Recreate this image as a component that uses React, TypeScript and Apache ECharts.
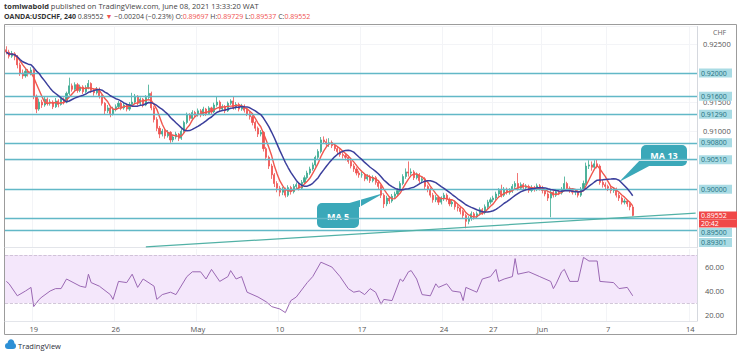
import React, { useEffect, useRef } from 'react';
import * as echarts from 'echarts';

// ---- data (prices in 1/10000 units, 4-hour candles) ----
const firstOpen = 9240;
const closesWk0 = [9236, 9229, 9233, 9228, 9214, 9200, 9195, 9203, 9199, 9205];
const highsWk0 = [9246, 9240, 9238, 9236, 9231, 9218, 9206, 9208, 9207, 9210];
const lowsWk0 = [9232, 9225, 9226, 9222, 9208, 9195, 9190, 9192, 9194, 9196];

const closesWk1 = [9160, 9138, 9150, 9145, 9155, 9148, 9150, 9142, 9152, 9146, 9155, 9150, 9165, 9178, 9172, 9180, 9170, 9176, 9168, 9175, 9182, 9170, 9166, 9172, 9160, 9148, 9135, 9140, 9130, 9138];
const highsWk1 = [9208, 9163, 9156, 9154, 9160, 9158, 9155, 9153, 9157, 9155, 9159, 9158, 9168, 9192, 9182, 9184, 9183, 9180, 9179, 9179, 9188, 9184, 9174, 9176, 9175, 9163, 9150, 9145, 9143, 9142];
const lowsWk1 = [9155, 9131, 9135, 9140, 9142, 9144, 9144, 9138, 9140, 9141, 9144, 9146, 9148, 9162, 9168, 9169, 9166, 9167, 9164, 9165, 9172, 9166, 9161, 9163, 9156, 9144, 9128, 9131, 9124, 9127];

const closesWk2 = [9142, 9148, 9140, 9145, 9138, 9146, 9150, 9160, 9148, 9155, 9145, 9158, 9165, 9140, 9120, 9105, 9095, 9100, 9092, 9098, 9085, 9090, 9095, 9088, 9100, 9115, 9128, 9122, 9132, 9128];
const highsWk2 = [9146, 9152, 9151, 9149, 9147, 9150, 9166, 9164, 9162, 9158, 9157, 9162, 9180, 9168, 9143, 9124, 9109, 9104, 9103, 9102, 9100, 9094, 9099, 9097, 9104, 9118, 9132, 9131, 9136, 9135];
const lowsWk2 = [9134, 9139, 9136, 9137, 9134, 9135, 9143, 9147, 9144, 9145, 9141, 9143, 9155, 9136, 9115, 9100, 9088, 9091, 9087, 9089, 9080, 9081, 9086, 9083, 9085, 9097, 9112, 9118, 9119, 9124];

const closesWk3 = [9135, 9128, 9138, 9130, 9140, 9133, 9145, 9150, 9138, 9142, 9135, 9148, 9152, 9140, 9146, 9138, 9143, 9136, 9130, 9125, 9115, 9105, 9095, 9098, 9070, 9055, 9040, 9025, 9010, 9002];
const highsWk3 = [9139, 9138, 9142, 9140, 9143, 9142, 9149, 9160, 9153, 9146, 9145, 9151, 9155, 9160, 9150, 9149, 9147, 9146, 9139, 9134, 9128, 9118, 9108, 9102, 9100, 9073, 9058, 9044, 9028, 9014];
const lowsWk3 = [9125, 9124, 9126, 9126, 9128, 9129, 9131, 9142, 9134, 9135, 9131, 9133, 9145, 9137, 9137, 9134, 9135, 9132, 9126, 9120, 9110, 9100, 9090, 9091, 9065, 9050, 9035, 9018, 9004, 8995];

const closesWk4 = [8995, 9000, 8990, 9003, 8996, 9005, 9008, 9002, 9012, 9020, 9028, 9035, 9042, 9055, 9065, 9085, 9082, 9078, 9080, 9075, 9070, 9065, 9060, 9058, 9055, 9048, 9040, 9035, 9028, 9025];
const highsWk4 = [9006, 9004, 9003, 9007, 9006, 9009, 9012, 9011, 9016, 9024, 9032, 9039, 9046, 9058, 9069, 9090, 9091, 9087, 9088, 9084, 9079, 9074, 9069, 9064, 9062, 9058, 9052, 9044, 9038, 9032];
const lowsWk4 = [8988, 8990, 8986, 8987, 8991, 8993, 9001, 8998, 9000, 9009, 9017, 9025, 9032, 9039, 9052, 9062, 9078, 9074, 9073, 9071, 9066, 9061, 9056, 9053, 9050, 9044, 9036, 9030, 9024, 9020];

const closesWk5 = [9025, 9018, 9022, 9015, 9020, 9012, 9005, 8990, 8975, 8985, 8980, 8988, 8992, 8998, 9010, 9022, 9030, 9028, 9030, 9020, 9025, 9015, 9018, 9005, 9000, 8990, 8982, 8986, 8978, 8984];
const highsWk5 = [9030, 9028, 9026, 9025, 9024, 9023, 9015, 9008, 8993, 8989, 8988, 8992, 8996, 9002, 9014, 9026, 9036, 9048, 9036, 9033, 9029, 9028, 9022, 9021, 9008, 9003, 8994, 8990, 8989, 8988];
const lowsWk5 = [9020, 9014, 9015, 9011, 9012, 9008, 9000, 8985, 8968, 8971, 8975, 8977, 8983, 8988, 8995, 9007, 9018, 9022, 9024, 9016, 9017, 9011, 9011, 9000, 8995, 8986, 8977, 8978, 8973, 8974];

const closesWk6 = [8990, 8983, 8975, 8978, 8970, 8968, 8962, 8955, 8945, 8950, 8958, 8953, 8958, 8965, 8960, 8970, 8978, 8982, 8985, 8992, 8998, 8990, 9000, 8995, 8998, 9005, 9010, 9002, 9008, 9003];
const highsWk6 = [8994, 8993, 8986, 8982, 8981, 8974, 8971, 8965, 8958, 8954, 8962, 8961, 8962, 8969, 8968, 8974, 8982, 8986, 8989, 8996, 9002, 9008, 9004, 9003, 9002, 9009, 9014, 9028, 9012, 9011];
const lowsWk6 = [8980, 8979, 8971, 8970, 8965, 8962, 8957, 8950, 8933, 8940, 8946, 8948, 8949, 8955, 8956, 8957, 8966, 8974, 8978, 8981, 8988, 8986, 8987, 8991, 8991, 8994, 9001, 8998, 8999, 8999];

const closesWk7 = [9005, 8998, 9003, 9000, 9006, 9002, 8998, 8992, 8985, 8995, 8990, 8996, 8994, 9000, 9010, 9002, 8998, 8995, 8995, 8990, 9000, 9010, 9040, 9042, 9038, 9044, 9040, 9012, 9008, 9005];
const highsWk7 = [9009, 9008, 9007, 9006, 9010, 9009, 9006, 9001, 8995, 8999, 8998, 9000, 8999, 9004, 9022, 9013, 9005, 9001, 8999, 8998, 9004, 9015, 9046, 9050, 9048, 9050, 9051, 9043, 9016, 9012];
const lowsWk7 = [9000, 8994, 8995, 8996, 8997, 8998, 8993, 8988, 8980, 8952, 8986, 8987, 8990, 8991, 8997, 8998, 8994, 8991, 8990, 8986, 8987, 8997, 9007, 9035, 9032, 9035, 9036, 9008, 9003, 9000];

const closesWk8 = [9002, 8998, 9000, 8990, 8985, 8978, 8980, 8975, 8969.7, 8955.2];
const highsWk8 = [9008, 9005, 9004, 9003, 8994, 8988, 8984, 8982, 8977, 8972.9];
const lowsWk8 = [8997, 8993, 8994, 8986, 8980, 8974, 8974, 8970, 8964, 8953.7];

const totalSlots = 253; // 4h slots shown on the time axis (incl. empty future space)
const xLabels: Record<number, string> = { 10: '19', 40: '26', 70: 'May', 100: '10', 130: '17', 160: '24', 178: '27', 196: 'Jun', 220: '7', 250: '14' };

const levels = [0.92, 0.916, 0.9129, 0.908, 0.9051, 0.9, 0.895, 0.89301];
const levelLabels = ['0.92000', '0.91600', '0.91290', '0.90800', '0.90510', '0.90000', '0.89500', '0.89301'];
const levelLabelShift = [0, 0, 0, 0, 0, 0, 28, 25];
const lastPrice = 0.89552;
const lastPriceText = '0.89552';
const countdown = '20:42';
const priceTicks = [0.925, 0.915, 0.91];
const rsiTicks = [60, 40, 20];
const trendStart: [number, number] = [51, 0.8901];
const trendEnd: [number, number] = [252, 0.8959];

const rsiPoints: [number, number][] = [
  [0, 48], [1, 46], [4, 36], [7, 40], [9, 43], [10, 27], [12, 33], [13, 35], [16, 40], [18, 42], [20, 42], [22, 50],
  [27, 44], [29, 43], [30, 54], [31, 47], [34, 44], [38, 37], [39, 33], [41, 48], [44, 47], [46, 54], [48, 43], [50, 50],
  [54, 44], [55, 33], [57, 37], [60, 39], [62, 37], [66, 52], [68, 56], [71, 56], [73, 50], [75, 58], [78, 48], [81, 52],
  [82, 57], [84, 50], [86, 52], [88, 39], [92, 35], [95, 31], [97, 27], [100, 25], [102, 22], [104, 32], [106, 35],
  [110, 47], [112, 52], [115, 64], [118, 61], [119, 60], [122, 52], [125, 42], [127, 39], [129, 40], [131, 37], [133, 42],
  [135, 39], [137, 29], [138, 33], [141, 32], [144, 50], [145, 48], [147, 56], [148, 57], [150, 50], [152, 37], [155, 36],
  [157, 46], [158, 43], [161, 46], [163, 40], [166, 39], [167, 32], [168, 43], [171, 40], [172, 39], [174, 50], [177, 52],
  [179, 58], [180, 48], [182, 50], [185, 52], [186, 67], [187, 54], [191, 56], [195, 52], [199, 48], [200, 42], [201, 46],
  [203, 56], [204, 58], [206, 48], [209, 48], [211, 68], [213, 65], [216, 65], [217, 48], [222, 47], [224, 42], [227, 43],
  [229, 36],
];

const FONT = "'Open Sans', 'Noto Sans', sans-serif";
const UP = '#3aa98f';
const DOWN = '#ef5350';
const LEVEL = '#62b8c7';
const TEAL_BOX = '#3ba8b9';

function buildOption() {
  const closes = [
    ...closesWk0, ...closesWk1, ...closesWk2, ...closesWk3, ...closesWk4,
    ...closesWk5, ...closesWk6, ...closesWk7, ...closesWk8,
  ].map((v) => v / 10000);
  const highs = [
    ...highsWk0, ...highsWk1, ...highsWk2, ...highsWk3, ...highsWk4,
    ...highsWk5, ...highsWk6, ...highsWk7, ...highsWk8,
  ].map((v) => v / 10000);
  const lows = [
    ...lowsWk0, ...lowsWk1, ...lowsWk2, ...lowsWk3, ...lowsWk4,
    ...lowsWk5, ...lowsWk6, ...lowsWk7, ...lowsWk8,
  ].map((v) => v / 10000);

  const candles = closes.map((c, i) => {
    const o = i === 0 ? firstOpen / 10000 : closes[i - 1];
    const h = Math.max(highs[i], o, c);
    const l = Math.min(lows[i], o, c);
    return [o, c, l, h];
  });

  const sma = (n: number) =>
    closes.map((_, i) => {
      const s = Math.max(0, i - n + 1);
      let sum = 0;
      for (let k = s; k <= i; k++) sum += closes[k];
      return +(sum / (i - s + 1)).toFixed(6);
    });

  const cats = Array.from({ length: totalSlots }, (_, i) => String(i));
  const isLabel = (i: number) => xLabels[i] !== undefined;

  const levelData = levels.map((v, i) => ({
    yAxis: v,
    label: {
      formatter: levelLabelShift[i] ? `{gap| }\n{box|${levelLabels[i]}}` : `{box|${levelLabels[i]}}`,
      rich: {
        gap: { height: levelLabelShift[i], lineHeight: levelLabelShift[i], fontSize: 1 },
        box: {
          backgroundColor: '#a9dbe4', color: '#1e6f80', fontSize: 7, fontFamily: FONT,
          width: 29, height: 9, lineHeight: 9, padding: [0, 2], align: 'left',
        },
      },
    },
  }));

  const priceData = {
    yAxis: lastPrice,
    lineStyle: { color: 'rgba(0,0,0,0)', width: 0.1 },
    label: {
      show: true,
      formatter: `{gap| }\n{a|${lastPriceText}}\n{b|${countdown}}`,
      rich: {
        gap: { height: 8, lineHeight: 8, fontSize: 1 },
        a: { backgroundColor: '#f04848', color: '#fff', fontSize: 7, fontFamily: FONT, width: 34, height: 8, lineHeight: 8, padding: [0, 2], align: 'left' },
        b: { backgroundColor: '#f04848', color: '#fff', fontSize: 7, fontFamily: FONT, width: 34, height: 8, lineHeight: 8, padding: [0, 2], align: 'left' },
      },
    },
  };

  const txt = (x: number, y: number, text: string, extra: any = {}) => ({
    type: 'text', x, y, silent: true,
    style: { text, fill: '#333', fontSize: 7.5, fontFamily: FONT, textVerticalAlign: 'middle', ...extra },
  });

  return {
    animation: false,
    backgroundColor: '#fff',
    textStyle: { fontFamily: FONT },
    grid: [
      { left: 5, top: 26.5, width: 692, height: 221 },
      { left: 5, top: 249, width: 692, height: 72 },
    ],
    xAxis: [
      {
        type: 'category', gridIndex: 0, data: cats, boundaryGap: true,
        axisLine: { show: true, lineStyle: { color: '#e3e5ea' } },
        axisTick: { show: false }, axisLabel: { show: false },
        splitLine: { show: true, interval: (i: number) => isLabel(i), lineStyle: { color: '#f3f4f7' } },
      },
      {
        type: 'category', gridIndex: 1, data: cats, boundaryGap: true,
        axisLine: { show: true, lineStyle: { color: '#e3e5ea' } },
        axisTick: { show: false },
        axisLabel: {
          interval: (i: number) => isLabel(i),
          formatter: (_v: string, i: number) => xLabels[i] ?? '',
          fontSize: 7.5, color: '#555', margin: 4, fontFamily: FONT,
        },
        splitLine: { show: true, interval: (i: number) => isLabel(i), lineStyle: { color: '#f3f4f7' } },
      },
    ],
    yAxis: [
      {
        type: 'value', gridIndex: 0, position: 'right', min: 0.89, max: 0.928, interval: 0.005,
        axisLine: { show: true, lineStyle: { color: '#d5d8de' } }, axisTick: { show: false },
        axisLabel: {
          fontSize: 7.5, color: '#555', margin: 6, fontFamily: FONT,
          formatter: (v: number) => (priceTicks.some((t) => Math.abs(t - v) < 1e-7) ? v.toFixed(5) : ''),
        },
        splitLine: { show: true, lineStyle: { color: '#f3f4f7' } },
      },
      {
        type: 'value', gridIndex: 1, position: 'right', min: 15, max: 75, interval: 5,
        axisLine: { show: true, lineStyle: { color: '#d5d8de' } }, axisTick: { show: false },
        axisLabel: {
          fontSize: 7.5, color: '#555', margin: 8, fontFamily: FONT,
          formatter: (v: number) => (rsiTicks.includes(v) ? v.toFixed(2) : ''),
        },
        splitLine: { show: false },
      },
    ],
    series: [
      {
        type: 'candlestick', xAxisIndex: 0, yAxisIndex: 0, data: candles, barWidth: 1.6,
        itemStyle: { color: UP, color0: DOWN, borderColor: UP, borderColor0: DOWN, borderWidth: 0.8 },
        markLine: {
          silent: true, symbol: 'none', animation: false, precision: 5,
          lineStyle: { color: LEVEL, width: 1.3, type: 'solid' },
          label: { position: 'end', distance: 2 },
          data: [
            ...levelData,
            priceData,
            [
              { coord: trendStart, lineStyle: { color: '#52b1a6', width: 1.2, type: 'solid' }, label: { show: false } },
              { coord: trendEnd },
            ],
          ],
        },
        z: 3,
      },
      {
        type: 'line', xAxisIndex: 0, yAxisIndex: 0, data: sma(5), symbol: 'none',
        lineStyle: { color: '#f0574e', width: 1.4 }, z: 4,
      },
      {
        type: 'line', xAxisIndex: 0, yAxisIndex: 0, data: sma(13), symbol: 'none',
        lineStyle: { color: '#3b3f9c', width: 1.5 }, z: 5,
      },
      {
        type: 'line', xAxisIndex: 1, yAxisIndex: 1, data: rsiPoints, symbol: 'none',
        lineStyle: { color: '#9a68b3', width: 1 },
        markArea: { silent: true, itemStyle: { color: '#f4e7fb' }, data: [[{ yAxis: 30 }, { yAxis: 70 }]] },
        markLine: {
          silent: true, symbol: 'none', label: { show: false },
          lineStyle: { color: '#c6b9cf', type: 'dashed', width: 0.8 },
          data: [{ yAxis: 70 }, { yAxis: 30 }],
        },
      },
    ],
    graphic: [
      { type: 'rect', silent: true, shape: { x: 4.5, y: 24.5, width: 732, height: 310 }, style: { fill: 'none', stroke: '#9c9c9c', lineWidth: 1 } },
      {
        type: 'text', x: 4, y: 6, silent: true,
        style: {
          text: '{b|tomiwabold} published on TradingView.com, June 08, 2021 13:33:20 WAT',
          fill: '#444', fontSize: 7.5, fontFamily: FONT, textVerticalAlign: 'middle',
          rich: { b: { fontWeight: 'bold', fill: '#333', fontSize: 7.5, fontFamily: FONT } },
        },
      },
      {
        type: 'text', x: 4, y: 16, silent: true,
        style: {
          text: '{b|OANDA:USDCHF, 240} 0.89552 {r|▼} −0.00204 (−0.23%) O:{r|0.89697} H:{r|0.89729} L:{r|0.89537} C:{r|0.89552}',
          fill: '#444', fontSize: 7, fontFamily: FONT, textVerticalAlign: 'middle',
          rich: {
            b: { fontWeight: 'bold', fill: '#333', fontSize: 7, fontFamily: FONT },
            r: { fill: '#ef5350', fontSize: 7, fontFamily: FONT },
          },
        },
      },
      txt(713, 32, 'CHF', { fill: '#666', fontSize: 7 }),
      txt(8, 258, 'RSI (14, close)', { fill: '#444', fontSize: 7 }),
      // callouts
      { type: 'polygon', silent: true, shape: { points: [[643, 157], [653, 164], [619, 182]] }, style: { fill: TEAL_BOX } },
      { type: 'rect', silent: true, shape: { x: 641, y: 145, width: 46, height: 21, r: 5 }, style: { fill: TEAL_BOX } },
      txt(664, 155.5, 'MA 13', { fill: '#fff', fontSize: 9, fontWeight: 'bold', textAlign: 'center' }),
      { type: 'polygon', silent: true, shape: { points: [[346, 204], [356, 209], [384, 193]] }, style: { fill: TEAL_BOX } },
      { type: 'rect', silent: true, shape: { x: 317, y: 203, width: 42, height: 25, r: 5 }, style: { fill: TEAL_BOX } },
      txt(338, 216, 'MA 5', { fill: '#fff', fontSize: 9, fontWeight: 'bold', textAlign: 'center' }),
      // TradingView logo
      { type: 'rect', silent: true, shape: { x: 5, y: 343, width: 11, height: 6, r: 3 }, style: { fill: '#2d8fd5' } },
      { type: 'circle', silent: true, shape: { cx: 11, cy: 342.5, r: 3.3 }, style: { fill: '#2d8fd5' } },
      txt(18, 346, 'TradingView', { fill: '#2a2e39', fontSize: 7.5 }),
    ],
  };
}

export default function App() {
  const ref = useRef<HTMLDivElement>(null);
  useEffect(() => {
    if (!ref.current) return;
    const chart = echarts.init(ref.current, undefined, { renderer: 'svg' });
    chart.setOption(buildOption() as any);
    return () => chart.dispose();
  }, []);
  return (
    <div
      ref={ref}
      style={{ position: 'fixed', left: 0, top: 0, width: 740, height: 357, background: '#fff' }}
    />
  );
}
